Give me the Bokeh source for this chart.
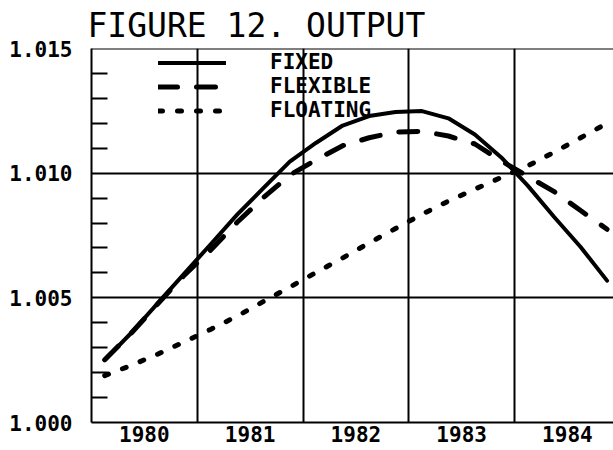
from bokeh.plotting import figure
from bokeh.models import (FixedTicker, PrintfTickFormatter, Range1d, Span, Legend,
                          LegendItem, LinearAxis, Grid)
from bokeh.embed import file_html
from bokeh.resources import INLINE

TITLE = "FIGURE 12. OUTPUT"
YEARS = [1980, 1981, 1982, 1983, 1984]
YEAR_LABELS = ["1980", "1981", "1982", "1983", "1984"]
QUARTERS = [1, 2, 3, 4]
SERIES_NAMES = ["FIXED", "FLEXIBLE", "FLOATING"]

FIXED = [1.00250, 1.00359, 1.00478, 1.00596, 1.00714, 1.00833, 1.00940, 1.01046,
         1.01122, 1.01191, 1.01229, 1.01245, 1.01249, 1.01220, 1.01155, 1.01063,
         1.00950, 1.00824, 1.00704, 1.00569]
FLEXIBLE = [1.00252, 1.00358, 1.00475, 1.00590, 1.00691, 1.00802, 1.00902, 1.00992,
            1.01054, 1.01110, 1.01142, 1.01165, 1.01168, 1.01149, 1.01117, 1.01049,
            1.00987, 1.00926, 1.00850, 1.00775]
FLOATING = [1.00188, 1.00229, 1.00274, 1.00323, 1.00373, 1.00426, 1.00485, 1.00543,
            1.00602, 1.00660, 1.00720, 1.00778, 1.00835, 1.00888, 1.00936, 1.00983,
            1.01029, 1.01084, 1.01142, 1.01200]

Y_MAJOR = [1.000, 1.005, 1.010, 1.015]
Y_MINOR = [1.001, 1.002, 1.003, 1.004, 1.006, 1.007, 1.008, 1.009,
           1.011, 1.012, 1.013, 1.014]
Y_GRID = [1.005, 1.010]

# quarterly positions: each year occupies [year, year + 1)
x = [yr + (q - 0.5) / 4 for yr in YEARS for q in QUARTERS]

FONT = "DejaVu Sans Mono"

p = figure(width=613, height=450, output_backend="svg", toolbar_location=None,
           x_range=Range1d(YEARS[0], 1984.936), y_range=Range1d(Y_MAJOR[0], Y_MAJOR[-1]),
           x_axis_type=None, y_axis_type=None,
           min_border_left=91, min_border_right=0, min_border_top=46, min_border_bottom=28)
p.outline_line_color = None
p.background_fill_color = "white"
p.border_fill_color = "white"

p.title.text = TITLE
p.title.text_font = FONT
p.title.text_font_size = "33px"
p.title.text_font_style = "normal"
p.title.text_color = "black"
p.title.align = "left"
p.title.offset = -4
p.title.standoff = 7

# grids
xgrid = Grid(dimension=0, ticker=FixedTicker(ticks=YEARS[1:]),
             grid_line_color="black", grid_line_width=2)
ygrid = Grid(dimension=1, ticker=FixedTicker(ticks=Y_GRID),
             grid_line_color="black", grid_line_width=2)
p.add_layout(xgrid, "center")
p.add_layout(ygrid, "center")
p.add_layout(Span(location=Y_MAJOR[-1], dimension="width", line_color="black", line_width=2))

# left axis
yaxis = LinearAxis(ticker=FixedTicker(ticks=Y_MAJOR, minor_ticks=Y_MINOR),
                   formatter=PrintfTickFormatter(format="%.3f"))
yaxis.axis_line_color = "black"
yaxis.axis_line_width = 2
yaxis.major_tick_in = 0
yaxis.major_tick_out = 0
yaxis.minor_tick_in = 16
yaxis.minor_tick_out = 0
yaxis.minor_tick_line_width = 2
yaxis.minor_tick_line_color = "black"
yaxis.major_label_text_font = FONT
yaxis.major_label_text_font_size = "21px"
yaxis.major_label_text_font_style = "bold"
yaxis.major_label_text_color = "black"
yaxis.major_label_standoff = 19
p.add_layout(yaxis, "left")

# bottom axis (labels centred in each year)
xaxis = LinearAxis(ticker=FixedTicker(ticks=[yr + 0.5 for yr in YEARS], minor_ticks=[]),
                   major_label_overrides={yr + 0.5: lab for yr, lab in zip(YEARS, YEAR_LABELS)})
xaxis.axis_line_color = "black"
xaxis.axis_line_width = 2
xaxis.major_tick_in = 0
xaxis.major_tick_out = 0
xaxis.minor_tick_in = 0
xaxis.minor_tick_out = 0
xaxis.major_label_text_font = FONT
xaxis.major_label_text_font_size = "21px"
xaxis.major_label_text_font_style = "bold"
xaxis.major_label_text_color = "black"
xaxis.major_label_standoff = 3
p.add_layout(xaxis, "below")

r1 = p.line(x, FIXED, line_color="black", line_width=4, line_join="round", line_cap="round")
r2 = p.line(x, FLEXIBLE, line_color="black", line_width=5, line_dash="19 19", line_cap="round")
r3 = p.line(x, FLOATING, line_color="black", line_width=5, line_dash="4 15", line_cap="round")

legend = Legend(items=[LegendItem(label=n, renderers=[r]) for n, r in zip(SERIES_NAMES, [r1, r2, r3])],
                location=(67, 300))
legend.glyph_width = 68
legend.glyph_height = 23
legend.label_height = 23
legend.spacing = 0
legend.padding = 0
legend.margin = 0
legend.label_standoff = 44
legend.background_fill_alpha = 0
legend.border_line_color = None
legend.label_text_font = FONT
legend.label_text_font_size = "21px"
legend.label_text_font_style = "bold"
legend.label_text_color = "black"
p.add_layout(legend, "center")

open("out.html", "w").write(file_html(p, INLINE))
